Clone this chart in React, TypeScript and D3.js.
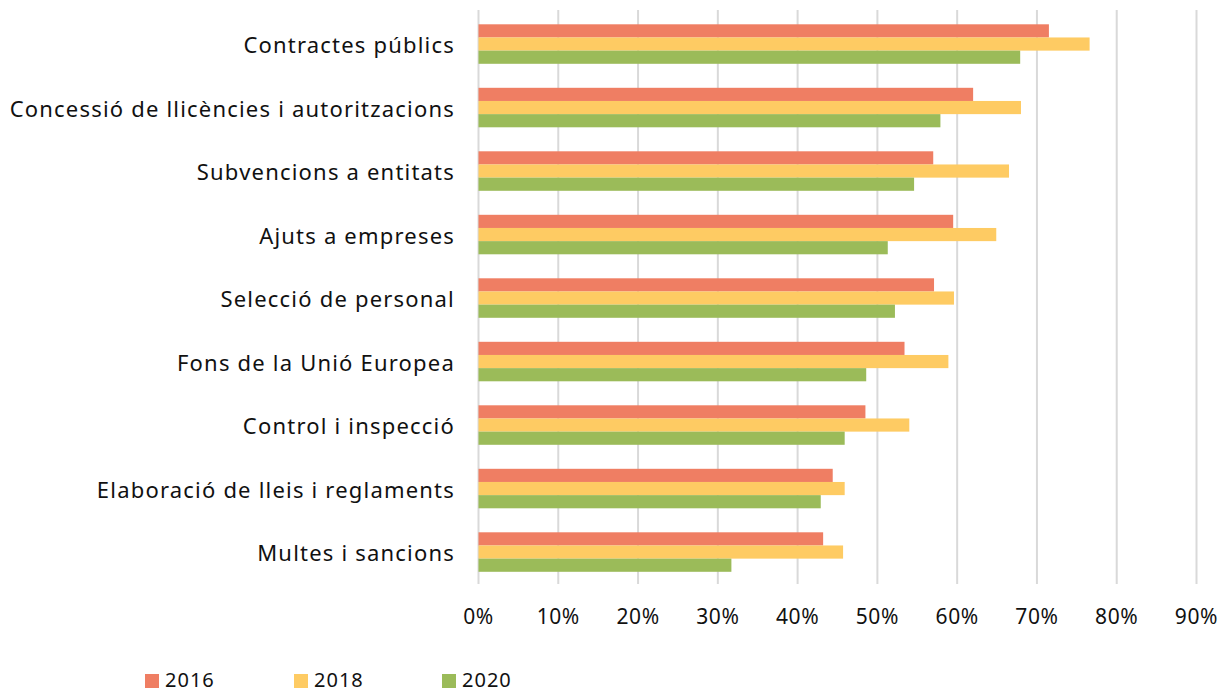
import * as d3 from 'd3';

const categories = [
  'Contractes públics',
  'Concessió de llicències i autoritzacions',
  'Subvencions a entitats',
  'Ajuts a empreses',
  'Selecció de personal',
  'Fons de la Unió Europea',
  'Control i inspecció',
  'Elaboració de lleis i reglaments',
  'Multes i sancions',
];

const years = ['2016', '2018', '2020'];

const values2016 = [71.5, 62.0, 57.0, 59.5, 57.1, 53.4, 48.5, 44.4, 43.2];
const values2018 = [76.6, 68.0, 66.5, 64.9, 59.6, 58.9, 54.0, 45.9, 45.7];
const values2020 = [67.9, 57.9, 54.6, 51.3, 52.2, 48.6, 45.9, 42.9, 31.7];

const xTicks = [0, 10, 20, 30, 40, 50, 60, 70, 80, 90];

const colors = ['#EF7E63', '#FECB63', '#9BBB59'];

const width = 1223;
const height = 693;
const font = '"Noto Sans", "Open Sans", sans-serif';

export default function App() {
  const series = [values2016, values2018, values2020];

  const x = d3.scaleLinear().domain([0, 90]).range([478.5, 1196.5]);
  const y = d3.scaleBand<string>().domain(categories).range([12.3, 583.8]).paddingInner(0.378).paddingOuter(0.189);
  const inner = d3.scaleBand<string>().domain(years).range([0, y.bandwidth()]);

  return (
    <svg width={width} height={height} style={{ position: 'absolute', left: 0, top: 0, background: '#fff' }}>
      {/* grid */}
      {xTicks.map((t) => (
        <line key={t} x1={x(t)} x2={x(t)} y1={10} y2={584} stroke="#D9D9D9" strokeWidth={2} />
      ))}

      {/* bars */}
      {categories.map((c, i) => (
        <g key={c} transform={`translate(0,${y(c)})`}>
          {series.map((s, j) => (
            <rect
              key={years[j]}
              x={x(0)}
              y={inner(years[j])}
              width={x(s[i]) - x(0)}
              height={inner.bandwidth()}
              fill={colors[j]}
            />
          ))}
        </g>
      ))}

      {/* category labels */}
      {categories.map((c) => (
        <text
          key={c}
          x={455}
          y={(y(c) ?? 0) + y.bandwidth() / 2}
          textAnchor="end"
          dominantBaseline="central"
          fontFamily={font}
          fontSize={22}
          letterSpacing={1.2}
          fill="#111"
        >
          {c}
        </text>
      ))}

      {/* x tick labels */}
      {xTicks.map((t) => (
        <text key={t} x={x(t)} y={616} textAnchor="middle" dominantBaseline="central" fontFamily={font} fontSize={21} letterSpacing={0.6} fill="#111">
          {`${t}%`}
        </text>
      ))}

      {/* legend */}
      {years.map((yr, j) => {
        const lx = [145, 294, 442][j];
        return (
          <g key={yr}>
            <rect x={lx} y={674} width={14} height={14} fill={colors[j]} />
            <text x={lx + 20} y={687} fontFamily={font} fontSize={20} letterSpacing={1} fill="#111">
              {yr}
            </text>
          </g>
        );
      })}
    </svg>
  );
}
